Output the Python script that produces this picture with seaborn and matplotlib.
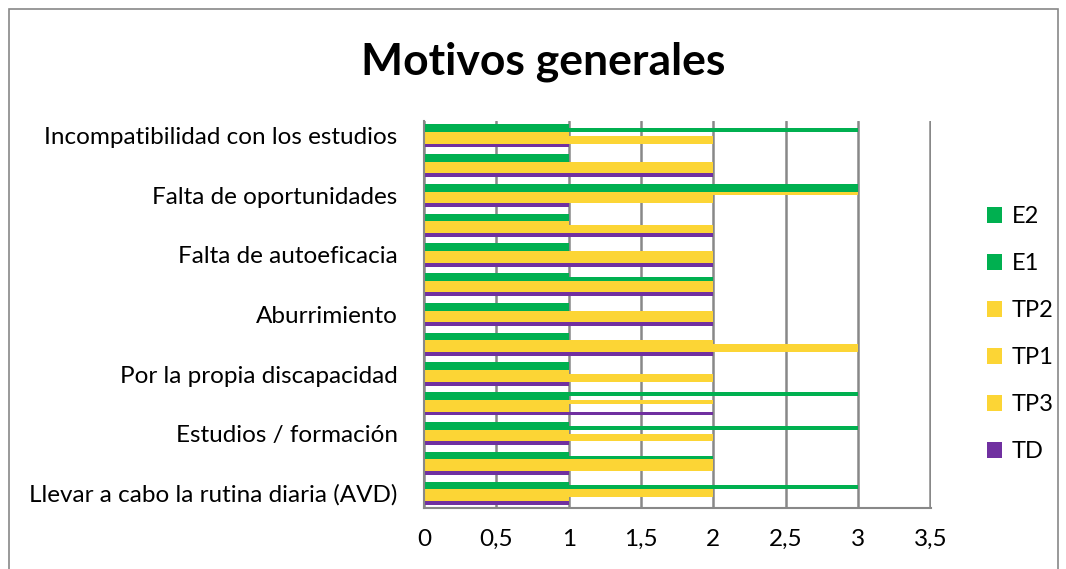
import numpy as np
import pandas as pd
import matplotlib
matplotlib.use('Agg')
import matplotlib.pyplot as plt
import matplotlib.ticker as ticker
from matplotlib.patches import Rectangle
import seaborn as sns

# categorías de arriba abajo (las de etiqueta vacía no se ven en el original)
categorias = ['Incompatibilidad con los estudios', '', 'Falta de oportunidades', '',
              'Falta de autoeficacia', '', 'Aburrimiento', '',
              'Por la propia discapacidad', '', 'Estudios / formación', '',
              'Llevar a cabo la rutina diaria (AVD)']
series = ['E2', 'E1', 'TP2', 'TP1', 'TP3', 'TD']

# valores por serie, de arriba abajo
E2 = [1, 1, 3, 1, 1, 1, 1, 1, 1, 3, 1, 1, 1]
E1 = [3, 1, 3, 1, 1, 2, 1, 1, 1, 1, 3, 2, 3]
TP2 = [1, 2, 3, 1, 2, 2, 2, 2, 1, 2, 1, 2, 2]
TP1 = [2, 2, 2, 2, 2, 2, 2, 3, 2, 1, 2, 2, 2]
TP3 = [2, 2, 2, 2, 2, 2, 2, 3, 2, 1, 2, 2, 1]
TD = [1, 2, 1, 2, 2, 2, 2, 2, 1, 2, 1, 1, 1]

colores = {'E2': '#00B050', 'E1': '#00B050', 'TP2': '#FCD535',
           'TP1': '#FCD535', 'TP3': '#FCD535', 'TD': '#7030A0'}

valores = {'E2': E2, 'E1': E1, 'TP2': TP2, 'TP1': TP1, 'TP3': TP3, 'TD': TD}
filas = []
for s in series:
    for i, v in enumerate(valores[s]):
        filas.append({'pos': i, 'serie': s, 'valor': v})
df = pd.DataFrame(filas)

sns.set_style('white')
plt.rcParams['font.family'] = ['Lato', 'DejaVu Sans']
plt.rcParams['text.color'] = 'black'

fig = plt.figure(figsize=(10.66, 5.69), dpi=100)
ax = fig.add_axes([424/1066, 1-508/569, (931-424)/1066, (508-121)/569])

sns.barplot(data=df, x='valor', y='pos', hue='serie', hue_order=series,
            palette=colores, saturation=1, orient='h', width=0.78, linewidth=0,
            errorbar=None, ax=ax)

# ejes
ax.set_xlim(0, 3.505)
ax.set_ylim(12.5, -0.5)
ax.xaxis.set_major_locator(ticker.MultipleLocator(0.5))
ax.xaxis.set_major_formatter(ticker.FuncFormatter(
    lambda x, pos: ('%g' % x).replace('.', ',')))
ax.set_yticks(range(len(categorias)))
ax.set_yticklabels(categorias)
ax.set_yticks(np.arange(-0.5, len(categorias), 1), minor=True)
ax.tick_params(axis='y', which='major', length=0, labelsize=17.5, pad=19,
               labelcolor='black')
ax.tick_params(axis='y', which='minor', length=6, width=1.5, color='#888888')
ax.tick_params(axis='x', length=6, width=1.5, color='#888888', labelsize=17.5,
               pad=9, labelcolor='black')
ax.set_xlabel('')
ax.set_ylabel('')

ax.grid(axis='x', color='#888888', linewidth=1.8)
ax.set_axisbelow(True)
for lado in ['top', 'right']:
    ax.spines[lado].set_visible(False)
for lado in ['left', 'bottom']:
    ax.spines[lado].set_color('#888888')
    ax.spines[lado].set_linewidth(1.5)

# leyenda
h, l = ax.get_legend_handles_labels()
ax.legend(h, l, loc='center left', bbox_to_anchor=(987/1066, 1-334/569),
          bbox_transform=fig.transFigure, frameon=False, fontsize=17,
          handlelength=0.65, handleheight=0.65, handletextpad=0.4,
          labelspacing=1.1, borderpad=0, borderaxespad=0)

fig.text(543/1066, 1-62/569, 'Motivos generales', ha='center', va='center',
         fontsize=32, fontweight='bold', color='black')

# marco del gráfico
fig.patches.append(Rectangle((9/1066, -0.1), (1058-9)/1066, 1.1-9/569,
                             transform=fig.transFigure, fill=False,
                             edgecolor='#888888', linewidth=1.2))

plt.savefig('out.png', dpi=100)
plt.close()
